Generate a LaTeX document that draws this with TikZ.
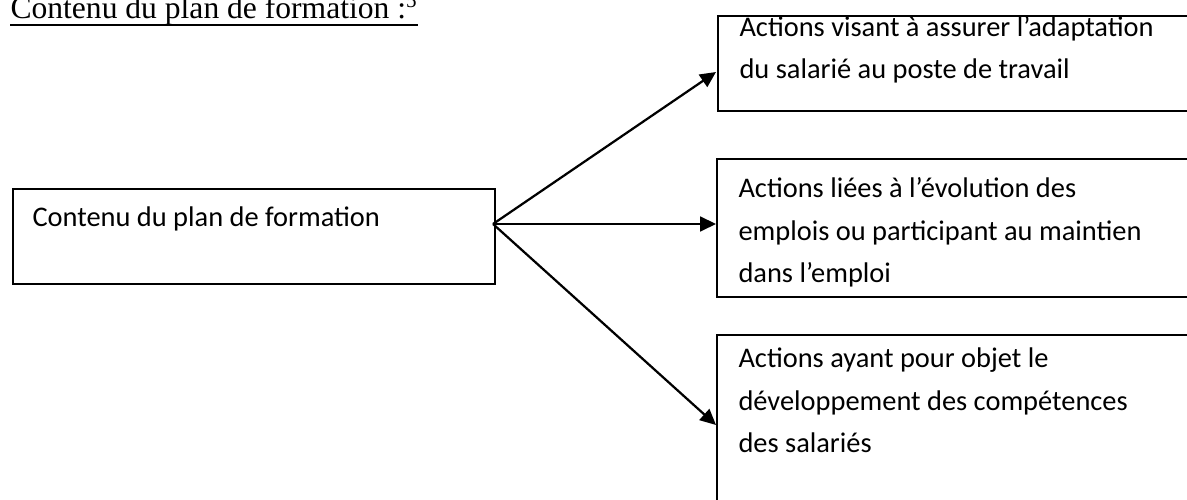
\documentclass[tikz,border=0pt]{standalone}
\usepackage{fontspec}
\setmainfont{Carlito}
\newfontfamily\titrefont{Liberation Serif}
\usetikzlibrary{arrows.meta}

\newcommand{\pixel}{0.38pt}

\begin{document}
\begin{tikzpicture}[x=\pixel,y=-\pixel,
  boite/.style={draw, line width=0.75pt, inner sep=0pt, anchor=north west},
  texte/.style={anchor=base west, align=left, inner sep=0pt, font=\fontsize{10.8}{16.3}\selectfont},
  fleche/.style={-{Triangle[length=6pt,width=5.6pt]}, line width=0.85pt}]
\useasboundingbox (0,0) rectangle (1187,500);
\clip (0,0) rectangle (1187,500);

% Titre souligne
\node[anchor=base west, inner sep=0pt, font=\titrefont\fontsize{12}{14}\selectfont] (titre) at (10,19) {Contenu du plan de formation :\textsuperscript{5}};
\draw[line width=0.75pt] ([yshift=-2.2pt]titre.base west) -- ([yshift=-2.2pt]titre.base east);

% Boite de gauche
\node[boite, minimum width=482*\pixel, minimum height=95*\pixel] (plan) at (12,188) {};
\node[texte] (tplan) at (32,227) {Contenu du plan de formation};

% Boites de droite (base = derniere ligne)
\node[boite, minimum width=494*\pixel, minimum height=95*\pixel] (a1) at (717,15) {};
\node[texte] (t1) at (739,79) {Actions visant à assurer l’adaptation\\du salarié au poste de travail};

\node[boite, minimum width=494*\pixel, minimum height=138*\pixel] (a2) at (716,158) {};
\node[texte] (t2) at (738,283) {Actions liées à l’évolution des\\emplois ou participant au maintien\\dans l’emploi};

\node[boite, minimum width=494*\pixel, minimum height=190*\pixel] (a3) at (716,334) {};
\node[texte] (t3) at (738,453) {Actions ayant pour objet le\\développement des compétences\\des salariés};

% Fleches
\coordinate (depart) at (493,224);
\coordinate (c1) at (716,72);
\coordinate (c3) at (716,425);
\draw[fleche] (depart) -- (c1);
\draw[fleche] (depart) -- (a2.west |- depart);
\draw[fleche] (depart) -- (c3);

%\draw[help lines] (0,0) grid[step=50] (1187,500);

\end{tikzpicture}
\end{document}
